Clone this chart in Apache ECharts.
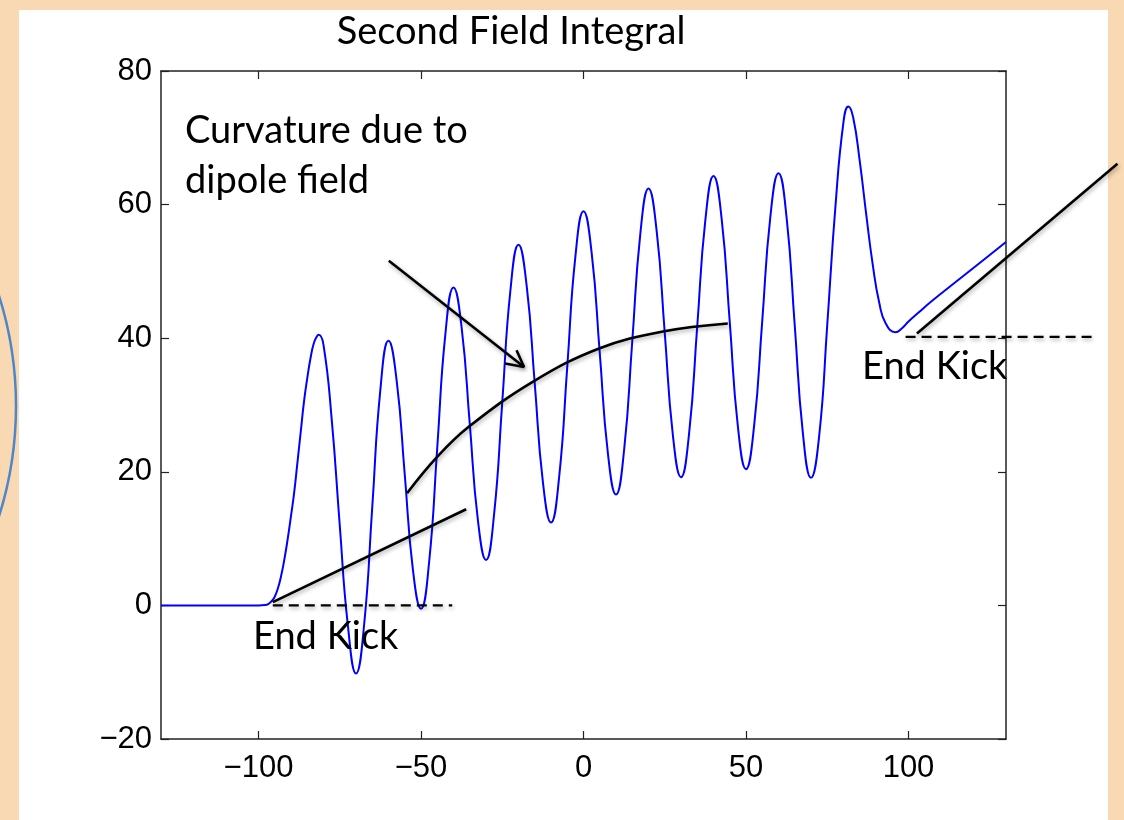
<!DOCTYPE html>
<html>
<head>
<meta charset="utf-8">
<title>Second Field Integral</title>
<script src="https://cdn.jsdelivr.net/npm/echarts@6/dist/echarts.min.js"></script>
<style>
  html, body { margin: 0; padding: 0; background: #f9d9b4; overflow: hidden; }
  #panel { position: absolute; left: 19px; top: 10px; width: 1089px; height: 810px; background: #ffffff; }
  #chart { position: absolute; left: 0; top: 0; width: 1124px; height: 820px; }
</style>
</head>
<body>
<div id="panel"></div>
<div id="chart"></div>
<script>
// Position along the device (x) and second field integral (y)
const positions = [
  -130, -110, -100, -98, -97, -96, -95, -94, -93, -92, -91, -90, -89, -88, -87, -86, -85, -84, -83, -82, -81.5,
  -80, -77.5, -75, -72.5, -70, -67.5, -65, -62.5, -60, -57.5, -55, -52.5,
  -50, -47.5, -45, -42.5, -40, -37.5, -35, -32.5, -30, -27.5, -25, -22.5,
  -20, -17.5, -15, -12.5, -10, -7.5, -5, -2.5, 0, 2.5, 5, 7.5,
  10, 12.5, 15, 17.5, 20, 22.5, 25, 27.5, 30, 32.5, 35, 37.5,
  40, 42.5, 45, 47.5, 50, 52.5, 55, 57.5, 60, 62.5, 65, 67.5,
  70, 72.5, 75, 77.5, 80, 81.5, 83, 85, 87, 89, 91, 93, 96, 98, 100, 103, 107, 115, 122, 130
];
const fieldIntegral = [
  0, 0, 0, 0.05, 0.2, 0.6, 1.3, 2.6, 4.5, 7.0, 10.0, 13.4, 17.0, 21.5, 26.0, 30.5, 34.0, 37.0, 39.2, 40.3, 40.5,
  39.0, 28.0, 12.0, -3.0, -10.2, -2.9, 14.7, 32.3, 39.6, 33.7, 19.6, 5.4,
  -0.5, 6.5, 23.6, 40.6, 47.6, 41.6, 27.2, 12.8, 6.8, 13.7, 30.4, 47.1,
  54.0, 47.9, 33.2, 18.5, 12.4, 19.2, 35.7, 52.2, 59.0, 52.8, 37.8, 22.8,
  16.6, 23.3, 39.5, 55.7, 62.4, 56.1, 40.8, 25.5, 19.2, 25.8, 41.8, 57.7,
  64.3, 57.9, 42.4, 26.8, 20.4, 26.9, 42.6, 58.2, 64.7, 58.0, 41.9, 25.8,
  19.1, 25.3, 42.0, 59.6, 72.4, 74.7, 73.0, 66.5, 58.5, 51.0, 45.3, 42.2, 40.9, 41.5, 42.5, 43.8, 45.5, 48.6, 51.3, 54.4
];

// Axis ticks
const xTicks = [-100, -50, 0, 50, 100];

// Annotation guides, in data units
const entrySlope = [[-95.6, 0.5], [-36.1, 14.4]];
const entryLevel = [[-95.6, 0], [-40.4, 0]];
const dipoleCurve = [[-54.3, 16.8], [-45.1, 22.2], [-35.4, 26.7], [-15.5, 33.5], [5.0, 38.5], [24.4, 41.0], [44.4, 42.2]];
const arrowShaft = [[-59.9, 51.6], [-18.3, 35.7]];
const arrowHead = [[-24.1, 36.2], [-18.3, 35.7], [-20.6, 38.2]];
const exitSlope = [[102.6, 40.7], [164.3, 66.1]];
const exitLevel = [[99.1, 40.2], [157.4, 40.2]];

const curveData = positions.map((x, i) => [x, fieldIntegral[i]]);

const frameColor = '#222';
const tickFont = { fontSize: 31, fontFamily: 'Liberation Sans, Arial, sans-serif', color: '#000' };
const textFont = '38px Lato, "Open Sans", sans-serif';
const minus = v => String(v).replace('-', '\u2212');

const shadow = { shadowColor: 'rgba(0,0,0,0.35)', shadowBlur: 4, shadowOffsetX: 1, shadowOffsetY: 2 };

function guide(data, opts) {
  return Object.assign({
    type: 'line',
    data: data,
    symbol: 'none',
    clip: false,
    silent: true,
    z: 5,
    lineStyle: Object.assign({ color: '#000', width: 2.6 }, shadow)
  }, opts || {});
}

const chart = echarts.init(document.getElementById('chart'), null, { renderer: 'canvas' });

const xAxisBase = {
  type: 'value', min: -130, max: 130,
  splitLine: { show: false },
  axisLine: { show: true, onZero: false, lineStyle: { color: frameColor, width: 1.5 } },
  axisTick: { show: true, inside: true, length: 8, customValues: xTicks, lineStyle: { color: frameColor, width: 1.2 } }
};
const yAxisBase = {
  type: 'value', min: -20, max: 80, interval: 20,
  splitLine: { show: false },
  axisLine: { show: true, onZero: false, lineStyle: { color: frameColor, width: 1.5 } },
  axisTick: { show: true, inside: true, length: 8, lineStyle: { color: frameColor, width: 1.2 } }
};

function label(id, text, x, y, align) {
  return { id: id, type: 'text', x: x, y: y, silent: true, z: 10,
    style: { text: text, font: textFont, fill: '#000', align: align || 'left', verticalAlign: 'middle' } };
}

chart.setOption({
  animation: false,
  backgroundColor: 'transparent',
  grid: { left: 161, top: 71, right: 118, bottom: 81, containLabel: false },
  xAxis: [
    Object.assign({}, xAxisBase, {
      position: 'bottom',
      axisLabel: Object.assign({ show: true, margin: 14, customValues: xTicks, formatter: minus }, tickFont)
    }),
    Object.assign({}, xAxisBase, { position: 'top', axisLabel: { show: false } })
  ],
  yAxis: [
    Object.assign({}, yAxisBase, {
      position: 'left',
      axisLabel: Object.assign({ show: true, margin: 9, formatter: minus }, tickFont)
    }),
    Object.assign({}, yAxisBase, { position: 'right', axisLabel: { show: false } })
  ],
  graphic: [
    { id: 'ring', type: 'circle', z: 0, silent: true,
      shape: { cx: -350, cy: 406, r: 366 },
      style: { fill: 'none', stroke: '#4f86c6', lineWidth: 2.5 } },
    label('title', 'Second Field Integral', 511, 32, 'center'),
    label('note1', 'Curvature due to', 185, 131),
    label('note2', 'dipole field', 185, 181),
    label('kickL', 'End Kick', 253, 637),
    label('kickR', 'End Kick', 862, 367)
  ],
  series: [
    {
      name: 'Second Field Integral',
      type: 'line',
      data: curveData,
      smooth: 0.5,
      symbol: 'none',
      z: 3,
      lineStyle: { color: '#0000ff', width: 2 }
    },
    guide(entrySlope),
    guide(entryLevel, { lineStyle: Object.assign({ color: '#000', width: 2.4, type: [10, 6] }, shadow) }),
    guide(dipoleCurve, { smooth: 0.4 }),
    guide(arrowShaft),
    guide(arrowHead)
  ]
});

// The exit guides run past the plot frame, so they are placed as free
// graphics at the positions the axes give for their data coordinates.
const toPx = p => chart.convertToPixel({ xAxisIndex: 0, yAxisIndex: 0 }, p);
chart.setOption({
  graphic: [
    { id: 'exitSlope', type: 'polyline', z: 9, silent: true,
      shape: { points: exitSlope.map(toPx) },
      style: Object.assign({ stroke: '#000', lineWidth: 2.6, fill: null }, shadow) },
    { id: 'exitLevel', type: 'polyline', z: 9, silent: true,
      shape: { points: exitLevel.map(toPx) },
      style: Object.assign({ stroke: '#000', lineWidth: 2.4, fill: null, lineDash: [10, 6] }, shadow) }
  ]
});
</script>
</body>
</html>
